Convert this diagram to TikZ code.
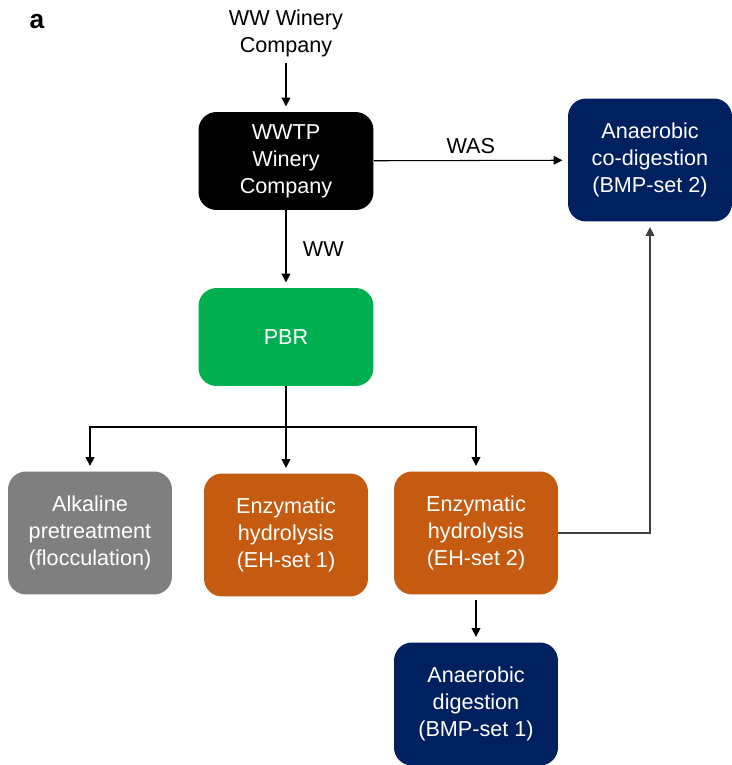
\documentclass[tikz,border=0pt]{standalone}
\usepackage{fontspec}
\setmainfont{Liberation Sans}
\usetikzlibrary{arrows.meta}
\definecolor{navy}{HTML}{002060}
\definecolor{leaf}{HTML}{00B050}
\definecolor{rust}{HTML}{C55A11}
\definecolor{slate}{HTML}{7F7F7F}
\begin{document}
\begin{tikzpicture}[x=.02cm,y=-.02cm,
thin,
box/.style={rounded corners=.36cm,align=center,text=white,
  font=\fontsize{12.3pt}{15.4pt}\selectfont,inner sep=0pt},
big box/.style={box,minimum width=3.28cm,minimum height=2.46cm},
wide box/.style={box,minimum width=3.5cm,minimum height=1.96cm},
flow/.style={-{Triangle[length=5pt,width=5pt]},line width=.6pt,shorten >=3pt}]
\useasboundingbox (0,0) rectangle (732,765);
\node[font=\fontsize{15pt}{15pt}\selectfont\bfseries] (tag) at (37,22) {a};
\node[align=center,font=\fontsize{12.3pt}{15.4pt}\selectfont] (src) at (286,33) {WW Winery\\Company};
\node[wide box,fill=black] (wwtp) at (286,161) {WWTP\\Winery\\Company};
\node[big box,fill=navy] (codig) at (650,160) {Anaerobic\\co-digestion\\(BMP-set 2)};
\node[wide box,fill=leaf] (pbr) at (286,337) {PBR};
\node[big box,fill=slate] (alk) at (90,533) {Alkaline\\pretreatment\\(flocculation)};
\node[big box,fill=rust] (eh1) at (286,535) {Enzymatic\\hydrolysis\\(EH-set 1)};
\node[big box,fill=rust] (eh2) at (476,533) {Enzymatic\\hydrolysis\\(EH-set 2)};
\node[big box,fill=navy] (bmp1) at (476,704) {Anaerobic\\digestion\\(BMP-set 1)};
\coordinate (fork) at (286,427);

\draw [flow] (src) -- (wwtp);
\draw [flow] (wwtp) -- node[above,font=\fontsize{12.3pt}{15pt}\selectfont] {WAS} (codig);
\draw [flow] (wwtp) -- node[right=6pt,pos=.5,font=\fontsize{12.3pt}{15pt}\selectfont] {WW} (pbr);
\draw [line width=.6pt] (pbr) -- (fork);
\draw [flow] (fork) -| (alk);
\draw [flow] (fork) -- (eh1);
\draw [flow] (fork) -| (eh2);
\draw [flow,black!75] (eh2) -| (codig);
\draw [flow,shorten <=3pt] (eh2) -- (bmp1);
\end{tikzpicture}
\end{document}
